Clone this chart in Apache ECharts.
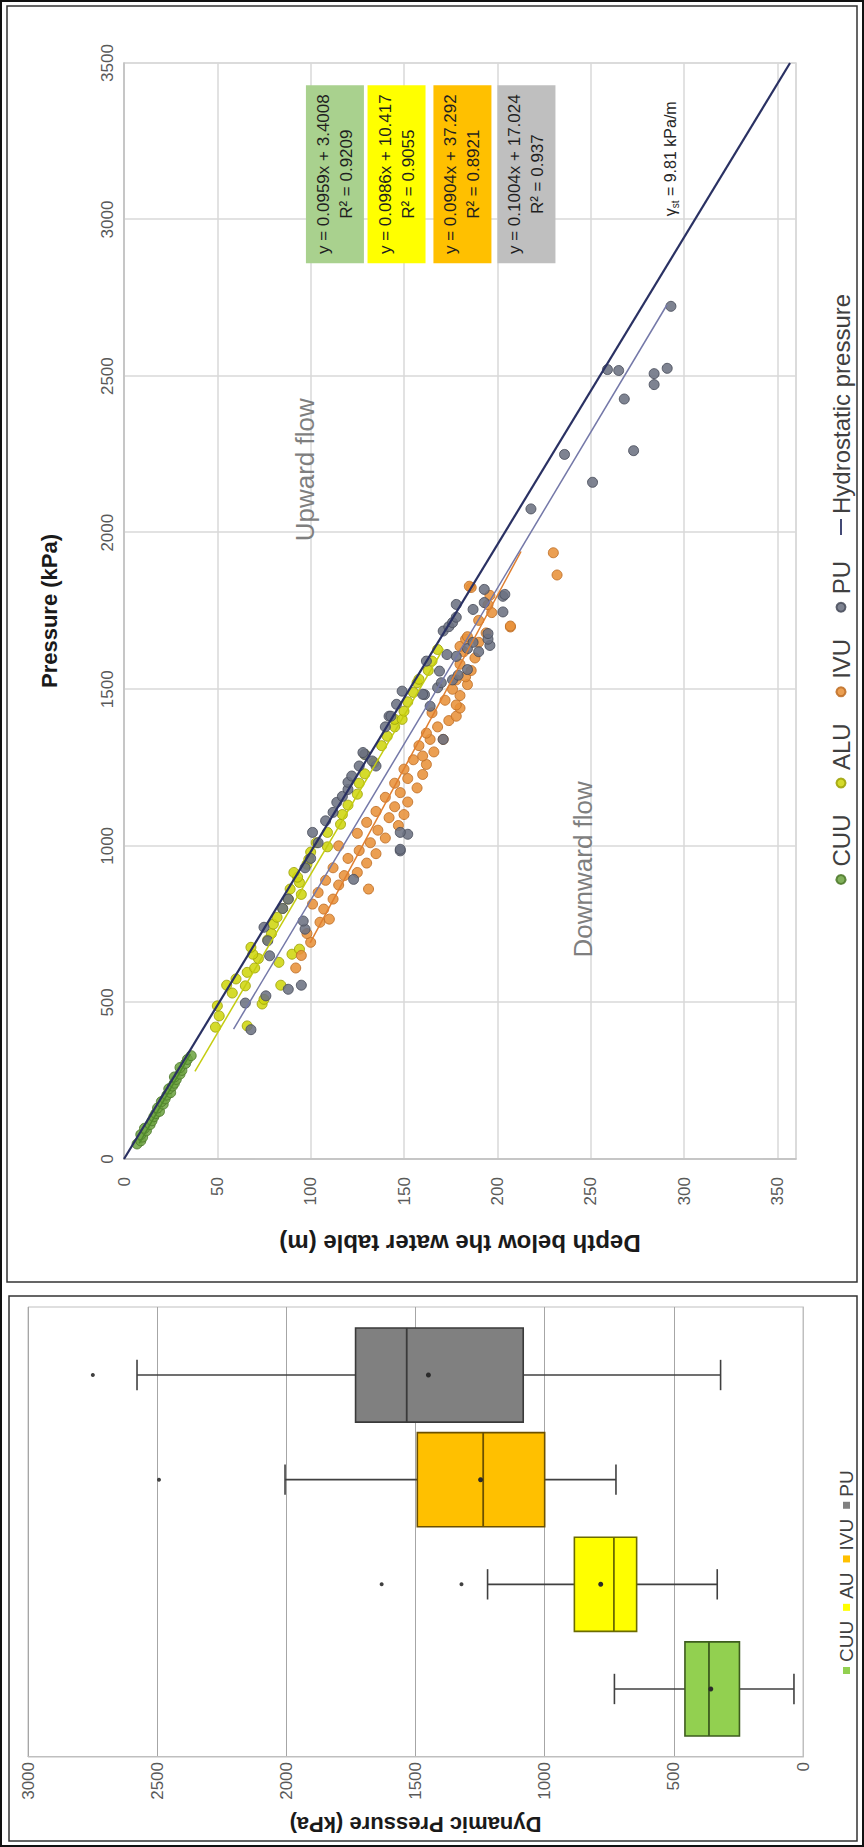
<!DOCTYPE html>
<html><head><meta charset="utf-8">
<script src="https://cdn.jsdelivr.net/npm/echarts@6/dist/echarts.min.js"></script>
<style>
html,body{margin:0;padding:0;background:#fff;width:864px;height:1847px;overflow:hidden}
#wrap{position:absolute;left:0;top:0;width:1847px;height:864px;transform-origin:0 0;transform:translateY(1847px) rotate(-90deg);background:#fff}
</style></head><body><div id="wrap"></div>
<script>
// ---------- DATA : scatter panel, [pressure kPa, depth m] ----------
var cuuPoints = [[48,7],[58,9],[70,10],[78,9],[90,12],[98,11],[110,14],[122,15],[135,16],[145,17],[152,19],[163,18],[175,21],[183,20],[192,22],[204,23],[212,25],[224,24],[233,26],[242,27],[254,28],[262,27],[271,30],[283,31],[292,30],[305,33],[318,34],[330,36]];
var aluPoints = [[421,49],[425,66],[457,51],[489,50],[495,74],[510,75],[530,58],[553,65],[555,55],[555,84],[575,60],[596,66],[610,70],[628,83],[640,72],[654,69],[654,90],[670,94],[676,68],[700,77],[720,79],[750,80],[772,82],[800,85],[830,88],[845,95],[862,89],[883,94],[900,93],[915,91],[941,98],[957,99],[980,100],[997,109],[1010,103],[1043,109],[1069,116],[1100,117],[1130,120],[1165,125],[1200,126],[1230,129],[1266,134],[1292,129],[1320,138],[1350,141],[1380,145],[1404,145],[1404,149],[1430,150],[1460,152],[1490,155],[1521,157],[1532,158],[1560,163],[1590,165],[1627,168]];
var ivuPoints = [[610,92],[650,95],[692,100],[720,98],[756,105],[766,110],[798,107],[814,101],[830,112],[851,104],[862,131],[875,115],[890,108],[905,118],[915,125],[930,112],[945,130],[960,120],[975,135],[985,126],[1000,115],[1010,132],[1025,140],[1040,125],[1050,136],[1065,147],[1075,130],[1090,142],[1100,150],[1110,135],[1125,145],[1140,152],[1155,140],[1170,148],[1185,157],[1200,145],[1215,152],[1228,160],[1245,150],[1260,162],[1275,155],[1287,160],[1300,166],[1320,158],[1340,164],[1340,171],[1360,162],[1380,168],[1400,174],[1414,178],[1425,165],[1440,180],[1450,178],[1465,172],[1480,180],[1500,176],[1515,184],[1530,178],[1540,183],[1560,186],[1580,180],[1600,188],[1620,182],[1637,180],[1650,190],[1660,183],[1668,184],[1680,194],[1699,207],[1702,207],[1720,190],[1745,197],[1770,195],[1800,196],[1825,186],[1829,185],[1865,232],[1936,230]];
var puPoints = [[413,68],[498,65],[521,76],[542,88],[555,95],[649,78],[697,77],[734,97],[740,75],[760,96],[800,85],[830,88],[893,123],[930,97],[960,100],[984,148],[989,148],[1010,104],[1037,152],[1043,101],[1043,148],[1080,108],[1107,112],[1139,114],[1158,117],[1180,120],[1203,120],[1223,122],[1255,126],[1255,135],[1271,133],[1292,129],[1298,128],[1340,171],[1380,140],[1414,142],[1414,143],[1446,164],[1452,146],[1483,161],[1484,160],[1494,149],[1505,168],[1521,170],[1530,176],[1545,179],[1558,169],[1563,184],[1590,162],[1605,178],[1611,173],[1620,190],[1630,184],[1640,196],[1650,187],[1660,195],[1678,195],[1686,171],[1700,174],[1713,176],[1730,178],[1747,203],[1755,187],[1771,178],[1777,193],[1797,203],[1803,204],[1819,193],[2076,218],[2161,251],[2250,236],[2262,273],[2427,268],[2473,284],[2508,284],[2518,265],[2521,259],[2525,291],[2723,293]];
// trend lines (end points) and hydrostatic line
var cuuTrend = [[50,8.2],[335,35.5]];
var aluTrend = [[280,38.0],[1630,171.1]];
var ivuTrend = [[690,99.7],[1940,212.7]];
var puTrend = [[415,58.7],[2728,290.9]];
var hydroLine = [[0,0],[3500,356.8]];
var pressureTicks = [0,500,1000,1500,2000,2500,3000,3500];
var depthTicks = [0,50,100,150,200,250,300,350];
var eqLines = ['y = 0.0959x + 3.4008\nR² = 0.9209','y = 0.0986x + 10.417\nR² = 0.9055','y = 0.0904x + 37.292\nR² = 0.8921','y = 0.1004x + 17.024\nR² = 0.937'];
var eqAnchors = [[3145,113],[3145,146],[3145,181.3],[3145,215.6]];
var flowLabels = ['Upward flow','Downward flow'];
var flowAnchors = [[2201,97],[925,246]];
var gammaAnchor = [3194,292.5];

// ---------- DATA : box plot panel (kPa) ----------
var boxCategories = ['CUU','AU','IVU','PU'];
var boxMin = [35,332,724,319];
var boxQ1 = [246,644,1000,1083];
var boxMedian = [364,732,1238,1534];
var boxQ3 = [457,885,1493,1732];
var boxMax = [730,1221,2005,2578];
var boxMean = [357,783,1248,1450];
var boxOutliers = [[1,1322],[1,1631],[2,2493],[3,2749]];
var dynTicks = [0,500,1000,1500,2000,2500,3000];

// ---------- STYLES ----------
var FONT = "'Liberation Sans', Arial, sans-serif";
var sc = {CUU:['#6fa544','#4e7a2c'], ALU:['#cfd60f','#9ea30a'], IVU:['#e8923a','#bf6f28'], PU:['#6c7282','#4a4f5c']};
var boxFill = ['#92d050','#ffff00','#ffc000','#808080'];
var boxStroke = ['#3d5c1e','#6b6b00','#6b5000','#3a3a3a'];
var eqBg = ['#a9d18e','#ffff00','#ffc000','#bfbfbf'];
var CLEAR = 'rgba(0,0,0,0)';

var chart = echarts.init(document.getElementById('wrap'), null, {renderer:'svg', width:1847, height:864});

function scatterSeries(name, data, cols){
  return {name:name, type:'scatter', data:data, xAxisIndex:0, yAxisIndex:0, symbol:'circle', symbolSize:10, z:2,
    itemStyle:{color:cols[0], borderColor:cols[1], borderWidth:1, opacity:0.88}, silent:true};
}
function lineSeries(name, data, color, w){
  return {name:name, type:'line', data:data, xAxisIndex:0, yAxisIndex:0, symbol:'none', z:4, silent:true,
    lineStyle:{color:color, width:w}, itemStyle:{color:color}};
}

var option = {
  backgroundColor:'#fff',
  animation:false,
  textStyle:{fontFamily:FONT},
  graphic:[
    {type:'rect', shape:{x:1,y:1,width:1845,height:862}, style:{fill:'none', stroke:'#111', lineWidth:2}, silent:true},
    {type:'rect', shape:{x:565,y:7,width:1276,height:850}, style:{fill:'none', stroke:'#333', lineWidth:1.5}, silent:true},
    {type:'rect', shape:{x:6,y:9,width:545,height:848}, style:{fill:'none', stroke:'#333', lineWidth:1.5}, silent:true}
  ],
  grid:[
    {left:688, top:124, width:1096, height:672, show:true, borderColor:'#d9d9d9', borderWidth:1.5, outerBoundsMode:'none'},
    {left:90, top:28, width:450, height:775, show:true, borderColor:'#bfbfbf', borderWidth:1, outerBoundsMode:'none'}
  ],
  legend:[
    {left:957, top:824, orient:'horizontal', itemGap:26, itemWidth:16, itemHeight:9, selectedMode:false,
     textStyle:{fontSize:24, color:'#404040', fontFamily:FONT},
     data:[{name:'CUU',icon:'circle'},{name:'ALU',icon:'circle'},{name:'IVU',icon:'circle'},{name:'PU',icon:'circle'},
           {name:'Hydrostatic pressure', icon:'path://M0,0 L20,0 L20,2.2 L0,2.2 Z'}]},
    {left:168, top:832, orient:'horizontal', itemGap:10, itemWidth:7, itemHeight:7, icon:'rect', selectedMode:false,
     textStyle:{fontSize:19, color:'#404040', fontFamily:FONT},
     formatter:function(n){return n.trim();},
     data:boxCategories.map(function(c){return c+' ';})}
  ],
  xAxis:[
    {gridIndex:0, type:'value', position:'top', min:0, max:3500, interval:500,
     name:'Pressure (kPa)', nameLocation:'middle', nameGap:64,
     nameTextStyle:{fontSize:22, fontWeight:'bold', color:'#1a1a1a', fontFamily:FONT},
     axisLine:{show:true, onZero:false, lineStyle:{color:'#bfbfbf', width:1.5}}, axisTick:{show:false},
     axisLabel:{fontSize:17, color:'#595959', margin:8, fontFamily:FONT,
       formatter:function(v){return pressureTicks.indexOf(v)>=0 ? String(v) : '';}},
     splitLine:{show:true, lineStyle:{color:'#d9d9d9', width:1.5}}},
    {gridIndex:1, type:'value', min:-0.65, max:3.65, show:true,
     axisLine:{show:true, onZero:false, lineStyle:{color:'#bfbfbf'}}, axisTick:{show:false}, axisLabel:{show:false}, splitLine:{show:false}}
  ],
  yAxis:[
    {gridIndex:0, type:'value', inverse:true, min:0, max:360, interval:50,
     name:'Depth below the water table (m)', nameLocation:'middle', nameGap:72, nameRotate:90,
     nameTextStyle:{fontSize:24, fontWeight:'bold', color:'#1a1a1a', fontFamily:FONT},
     axisLine:{show:true, onZero:false, lineStyle:{color:'#bfbfbf', width:1.5}}, axisTick:{show:false},
     axisLabel:{fontSize:17, color:'#595959', margin:18, showMaxLabel:false, fontFamily:FONT,
       formatter:function(v){return depthTicks.indexOf(v)>=0 ? String(v) : '';}},
     splitLine:{show:true, lineStyle:{color:'#d9d9d9', width:1.5}}},
    {gridIndex:1, type:'value', min:0, max:3000, interval:500,
     name:'Dynamic Pressure (kPa)', nameLocation:'middle', nameGap:56, nameRotate:90,
     nameTextStyle:{fontSize:22, fontWeight:'bold', color:'#1a1a1a', fontFamily:FONT},
     axisLine:{show:true, onZero:false, lineStyle:{color:'#bfbfbf'}}, axisTick:{show:false},
     axisLabel:{fontSize:17, color:'#595959', margin:5, fontFamily:FONT,
       formatter:function(v){return dynTicks.indexOf(v)>=0 ? String(v) : '';}},
     splitLine:{show:true, lineStyle:{color:'#a6a6a6', width:1}}}
  ],
  series:[
    scatterSeries('CUU', cuuPoints, sc.CUU),
    scatterSeries('ALU', aluPoints, sc.ALU),
    scatterSeries('IVU', ivuPoints, sc.IVU),
    scatterSeries('PU', puPoints, sc.PU),
    lineSeries('cuuTrend', cuuTrend, '#4f8a2a', 1.5),
    lineSeries('aluTrend', aluTrend, '#c4cc10', 1.5),
    lineSeries('ivuTrend', ivuTrend, '#e07f2f', 1.5),
    lineSeries('puTrend', puTrend, '#7478a8', 1.5),
    lineSeries('Hydrostatic pressure', hydroLine, '#2a3163', 2.2),
    // equation boxes
    {name:'equations', type:'scatter', xAxisIndex:0, yAxisIndex:0, symbolSize:1, silent:true, z:6,
     itemStyle:{color:CLEAR, opacity:1},
     data:eqAnchors.map(function(a,i){return {value:a, label:{backgroundColor:eqBg[i]}};}),
     label:{show:true, position:'inside', formatter:function(p){return eqLines[p.dataIndex];},
       fontSize:17, lineHeight:23, color:'#1f1f1f', width:170, align:'center', verticalAlign:'middle',
       padding:[6,4], fontFamily:FONT}},
    // flow labels
    {name:'flowLabels', type:'scatter', xAxisIndex:0, yAxisIndex:0, symbolSize:1, silent:true, z:6,
     itemStyle:{color:CLEAR, opacity:1}, data:flowAnchors,
     label:{show:true, position:'inside', formatter:function(p){return flowLabels[p.dataIndex];},
       fontSize:26, color:'#7f7f7f', fontFamily:FONT}},
    // gamma label
    {name:'gamma', type:'scatter', xAxisIndex:0, yAxisIndex:0, symbolSize:1, silent:true, z:6,
     itemStyle:{color:CLEAR, opacity:1}, data:[gammaAnchor],
     label:{show:true, position:'inside', formatter:'{g|γ}{s|st}{t| = 9.81 kPa/m}',
       rich:{g:{fontSize:16, color:'#262626', lineHeight:20, fontFamily:FONT},
             s:{fontSize:10, color:'#262626', lineHeight:20, verticalAlign:'bottom', fontFamily:FONT},
             t:{fontSize:16, color:'#262626', lineHeight:20, fontFamily:FONT}}}},
    // box plot
    {name:'boxes', type:'custom', xAxisIndex:1, yAxisIndex:1, silent:true, z:3,
     data:boxCategories.map(function(c,i){return [i, boxMin[i], boxQ1[i], boxMedian[i], boxQ3[i], boxMax[i]];}),
     encode:{x:0, y:[1,2,3,4,5]},
     renderItem:function(params, api){
       var i = api.value(0);
       var unit = api.size([1,0])[0];
       var cx = api.coord([i,0])[0];
       var yMin = api.coord([i, api.value(1)])[1];
       var yQ1 = api.coord([i, api.value(2)])[1];
       var yMed = api.coord([i, api.value(3)])[1];
       var yQ3 = api.coord([i, api.value(4)])[1];
       var yMax = api.coord([i, api.value(5)])[1];
       var half = unit*0.45, cap = unit*0.145;
       var ls = {stroke:'#404040', lineWidth:1.6};
       return {type:'group', children:[
         {type:'line', shape:{x1:cx,y1:yMin,x2:cx,y2:yQ1}, style:ls},
         {type:'line', shape:{x1:cx,y1:yQ3,x2:cx,y2:yMax}, style:ls},
         {type:'line', shape:{x1:cx-cap,y1:yMin,x2:cx+cap,y2:yMin}, style:ls},
         {type:'line', shape:{x1:cx-cap,y1:yMax,x2:cx+cap,y2:yMax}, style:ls},
         {type:'rect', shape:{x:cx-half,y:yQ3,width:half*2,height:yQ1-yQ3}, style:{fill:boxFill[i], stroke:boxStroke[i], lineWidth:1.6}},
         {type:'line', shape:{x1:cx-half,y1:yMed,x2:cx+half,y2:yMed}, style:{stroke:boxStroke[i], lineWidth:1.8}}
       ]};
     }},
    {name:'means', type:'scatter', xAxisIndex:1, yAxisIndex:1, symbol:'circle', symbolSize:5, silent:true, z:5,
     itemStyle:{color:'#2b2b2b', opacity:1}, data:boxMean.map(function(m,i){return [i,m];})},
    {name:'outliers', type:'scatter', xAxisIndex:1, yAxisIndex:1, symbol:'circle', symbolSize:4, silent:true, z:5,
     itemStyle:{color:'#404040', opacity:1}, data:boxOutliers},
    // legend entries for the box plot
    {name:'CUU ', type:'scatter', xAxisIndex:1, yAxisIndex:1, data:[], itemStyle:{color:boxFill[0], opacity:1}},
    {name:'AU ', type:'scatter', xAxisIndex:1, yAxisIndex:1, data:[], itemStyle:{color:boxFill[1], opacity:1}},
    {name:'IVU ', type:'scatter', xAxisIndex:1, yAxisIndex:1, data:[], itemStyle:{color:boxFill[2], opacity:1}},
    {name:'PU ', type:'scatter', xAxisIndex:1, yAxisIndex:1, data:[], itemStyle:{color:boxFill[3], opacity:1}}
  ]
};
chart.setOption(option);
</script></body></html>
